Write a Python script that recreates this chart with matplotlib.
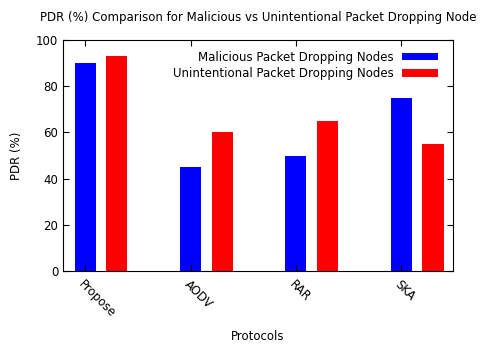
import matplotlib
matplotlib.use("Agg")
import matplotlib.pyplot as plt
import numpy as np

categories = ["Propose", "AODV", "RAR", "SKA"]
malicious = [90, 45, 50, 75]
unintentional = [93, 60, 65, 55]

plt.rcParams['font.family'] = ['DejaVu Sans']
fs = 8.5
fig = plt.figure(figsize=(4.8, 3.47), dpi=100)
ax = fig.add_axes([63/480, 1-271/347, (453-63)/480, (271-40)/347])

x = np.arange(len(categories))
ax.bar(x, malicious, width=0.2, color='#0000ff', label='Malicious Packet Dropping Nodes')
ax.bar(x + 0.3, unintentional, width=0.2, color='#ff0000', label='Unintentional Packet Dropping Nodes')

ax.set_xlim(-0.21, 3.49)
ax.set_ylim(0, 100)
ax.set_yticks(range(0, 101, 20))
ax.set_xticks(x)
ax.set_xticklabels(categories, rotation=-45, ha='left', va='top', rotation_mode='anchor', fontsize=fs)
ax.tick_params(axis='both', direction='in', top=True, right=True, length=4, labelsize=fs)
ax.tick_params(axis='x', pad=5)
for s in ax.spines.values():
    s.set_linewidth(0.8)

ax.set_title("PDR (%) Comparison for Malicious vs Unintentional Packet Dropping Node", fontsize=fs, pad=14)
ax.set_ylabel("PDR (%)", fontsize=fs, labelpad=9)
ax.set_xlabel("Protocols", fontsize=fs, labelpad=7)

ax.legend(loc='upper right', frameon=False, markerfirst=False, fontsize=fs,
          handlelength=3.1, handleheight=0.6, borderaxespad=0.3, labelspacing=0.3,
          handletextpad=0.7, borderpad=0.6, bbox_to_anchor=(0.99, 1.0))

fig.savefig("out.png", dpi=100)
